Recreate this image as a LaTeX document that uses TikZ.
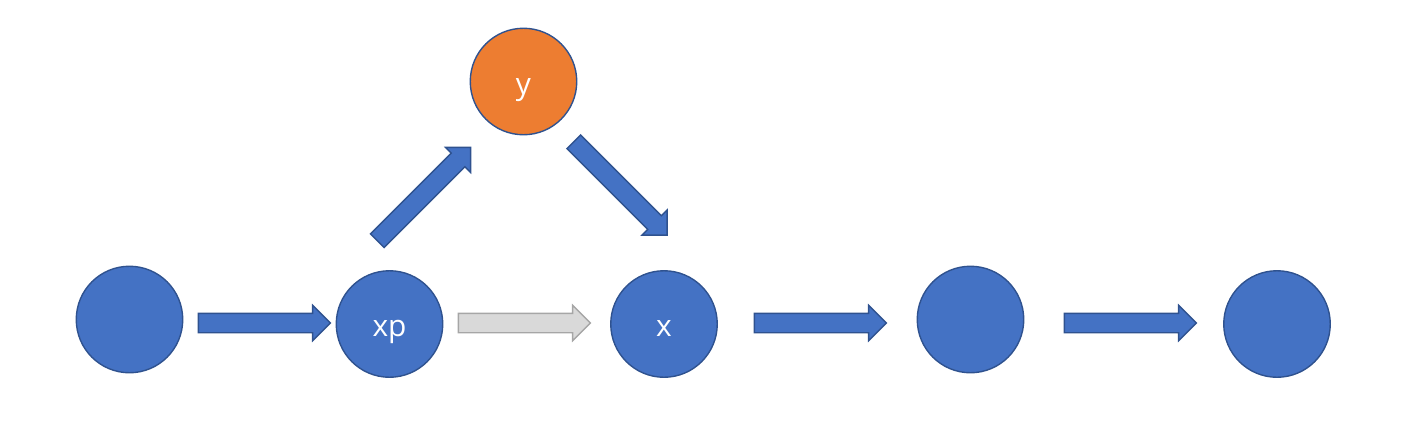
\documentclass[tikz,border=0pt]{standalone}
\usepackage{fontspec}
\setmainfont{Open Sans}
\usetikzlibrary{shapes.arrows}

\definecolor{nodeblue}{HTML}{4472C4}
\definecolor{edgeblue}{HTML}{2F528F}
\definecolor{nodeorange}{HTML}{ED7D31}
\definecolor{arrowgrey}{HTML}{D9D9D9}
\definecolor{edgegrey}{HTML}{A6A6A6}

\begin{document}
\begin{tikzpicture}[x=0.02cm, y=-0.02cm,
      circ/.style = {shape=circle, draw=edgeblue, fill=nodeblue,
        line width=0.8pt, minimum size=2.13cm, inner sep=0pt,
        text=white, font=\fontsize{17pt}{20pt}\selectfont,
        text height=0.5cm, text depth=0pt},
      blockarrow/.style = {shape=single arrow, draw=edgeblue, fill=nodeblue,
        line width=0.8pt, minimum height=2.64cm, minimum width=0.68cm,
        inner xsep=0pt, inner ysep=0.18cm, single arrow head extend=0.16cm,
        single arrow tip angle=90},
      greyarrow/.style = {blockarrow, draw=edgegrey, fill=arrowgrey}]
  \useasboundingbox (0,0) rectangle (1417,434);
  % row of states
  \node[circ] (s1) at (129.5,319.5) {};
  \node[circ] (xp) at (389.5,324) {xp};
  \node[circ] (x) at (664,324) {x};
  \node[circ] (s4) at (970.5,319.5) {};
  \node[circ] (s5) at (1277,324) {};
  % top node
  \node[circ, fill=nodeorange] (y) at (523.5,81.5) {y};
  % block arrows
  \node[blockarrow] (a1) at (259.5,323) {};
  \node[greyarrow] (a2) at (519.5,323) {};
  \node[blockarrow] (a3) at (815.5,323) {};
  \node[blockarrow] (a4) at (1125.5,323) {};
  \node[blockarrow, rotate=45] (up) at (420.5,197.5) {};
  \node[blockarrow, rotate=-45] (down) at (617,185) {};
\end{tikzpicture}
\end{document}
